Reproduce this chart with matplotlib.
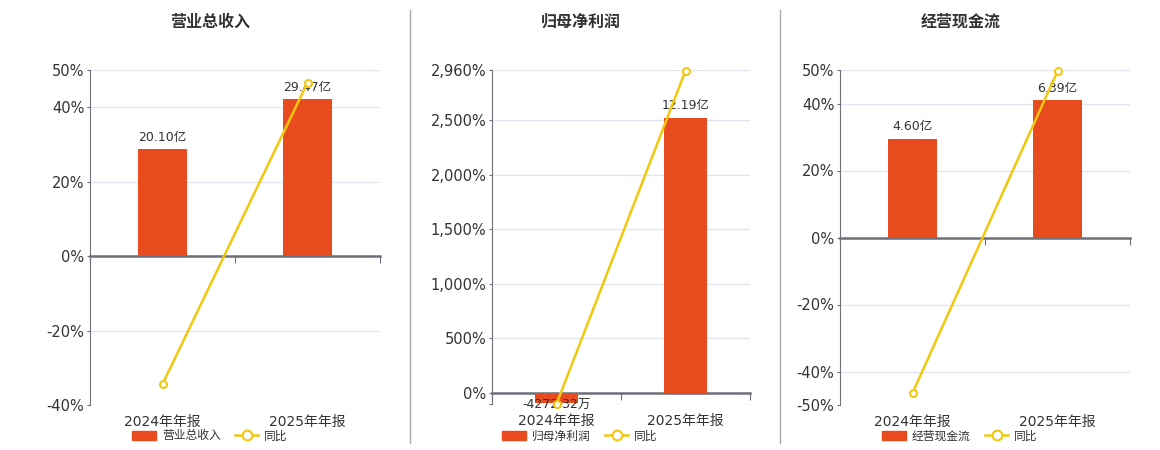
import matplotlib.pyplot as plt
import matplotlib.ticker as mticker
from matplotlib.patches import Patch
from matplotlib.lines import Line2D

plt.rcParams['font.family'] = ['DejaVu Sans', 'Noto Sans CJK SC']

# ---------------------------------------------------------
# Datos
# ---------------------------------------------------------
periods = ['2024年年报', '2025年年报']
titles = ['营业总收入', '归母净利润', '经营现金流']
bar_values = [[20.10, 29.47], [-0.427232, 12.19], [4.60, 6.39]]   # 亿
bar_labels = [['20.10亿', '29.47亿'], ['-4272.32万', '12.19亿'], ['4.60亿', '6.39亿']]
yoy_values = [[-34.4, 46.6], [-101.0, 2953.0], [-46.4, 49.6]]    # %
y_ticks = [[-40, -20, 0, 20, 40, 50],
           [0, 500, 1000, 1500, 2000, 2500, 2960],
           [-50, -40, -20, 0, 20, 40, 50]]
y_limits = [(-40, 50), (-101, 2960), (-50, 50)]
bar_axis_top = [35.0, 14.32, 7.8]

bar_color = '#E84C1E'
line_color = '#F2C80F'
axis_color = '#6E7079'
grid_color = '#E0E6F1'
text_color = '#333333'

W, H = 1160, 450
# (left, top, right, bottom) en pixeles
boxes = [(90, 70, 380, 405), (492, 70, 750, 404), (840, 70, 1130, 405)]
title_x = [210, 581, 961]
legend_x = [210, 580, 960]

fig = plt.figure(figsize=(W / 100, H / 100), dpi=100)

for i in range(3):
    l, t, r, b = boxes[i]
    ax = fig.add_axes([l / W, 1 - b / H, (r - l) / W, (b - t) / H])
    ymin, ymax = y_limits[i]
    ax.set_ylim(ymin, ymax)
    ticks = list(y_ticks[i])
    if ymin not in ticks:
        ticks = [ymin] + ticks
    ax.set_yticks(ticks)
    ax.yaxis.set_major_formatter(mticker.FuncFormatter(
        lambda v, p, lo=ymin, tk=y_ticks[i]: '' if (v == lo and lo not in tk) else f'{v:,.0f}%'))
    ax.yaxis.grid(True, color=grid_color, lw=1)
    ax.set_axisbelow(True)
    ax.tick_params(axis='y', length=2, color=axis_color, labelsize=10.5,
                   labelcolor=text_color, pad=2)

    ax.set_xlim(-0.5, 1.5)
    ax.set_xticks([-0.5, 0.5, 1.5])
    ax.set_xticklabels(['', '', ''])
    ax.tick_params(axis='x', length=5, color=axis_color, direction='out')
    ax.spines['top'].set_visible(False)
    ax.spines['right'].set_visible(False)
    ax.spines['left'].set_color(axis_color)
    ax.spines['bottom'].set_position(('data', 0))
    ax.spines['bottom'].set_color(axis_color)
    ax.spines['bottom'].set_linewidth(1.8)
    ax.spines['bottom'].set_zorder(5)

    sec = ax.secondary_xaxis('bottom')
    sec.set_xticks([0, 1])
    sec.set_xticklabels(periods)
    sec.spines['bottom'].set_visible(False)
    sec.tick_params(length=0, pad=7.5, labelsize=10, labelcolor=text_color)

    # barras en eje secundario con el cero alineado
    bx = ax.twinx()
    top = bar_axis_top[i]
    bx.set_ylim(top * ymin / ymax, top)
    bx.axis('off')
    bx.bar([0, 1], bar_values[i], width=0.34, color=bar_color, zorder=2)
    for x, v, lab in zip([0, 1], bar_values[i], bar_labels[i]):
        if v >= 0:
            bx.annotate(lab, (x, v), xytext=(0, 4), textcoords='offset points',
                        ha='center', va='bottom', fontsize=9, color=text_color)
        else:
            bx.annotate(lab, (x, v), xytext=(0, -2), textcoords='offset points',
                        ha='center', va='center', fontsize=9, color=text_color,
                        clip_on=False)

    # linea de 同比 sobre las barras
    bx.plot([0, 1], yoy_values[i], transform=ax.transData, color=line_color, lw=1.8,
            marker='o', markersize=5, markerfacecolor='white', markeredgecolor=line_color,
            markeredgewidth=1.5, zorder=4, clip_on=False)

    fig.text(title_x[i] / W, 1 - 22 / H, titles[i], ha='center', va='center',
             fontsize=11.5, fontweight='bold', color=text_color)

    handles = [Patch(facecolor=bar_color, edgecolor=bar_color),
               Line2D([], [], color=line_color, lw=1.8, marker='o', markersize=7,
                      markerfacecolor='white', markeredgecolor=line_color, markeredgewidth=1.5)]
    ax.legend(handles, [titles[i], '同比'], loc='center',
              bbox_to_anchor=((legend_x[i] - l) / (r - l), (b - 436) / (b - t)),
              ncol=2, frameon=False, fontsize=8.5, handlelength=2.0, handleheight=0.9,
              columnspacing=1.2, handletextpad=0.5, labelcolor=text_color)

# separadores verticales
for sx in [410, 780]:
    fig.add_artist(Line2D([sx / W, sx / W], [1 - 443 / H, 1 - 10 / H],
                          color='#AAAAAA', lw=1))

plt.savefig('out.png', dpi=100)
